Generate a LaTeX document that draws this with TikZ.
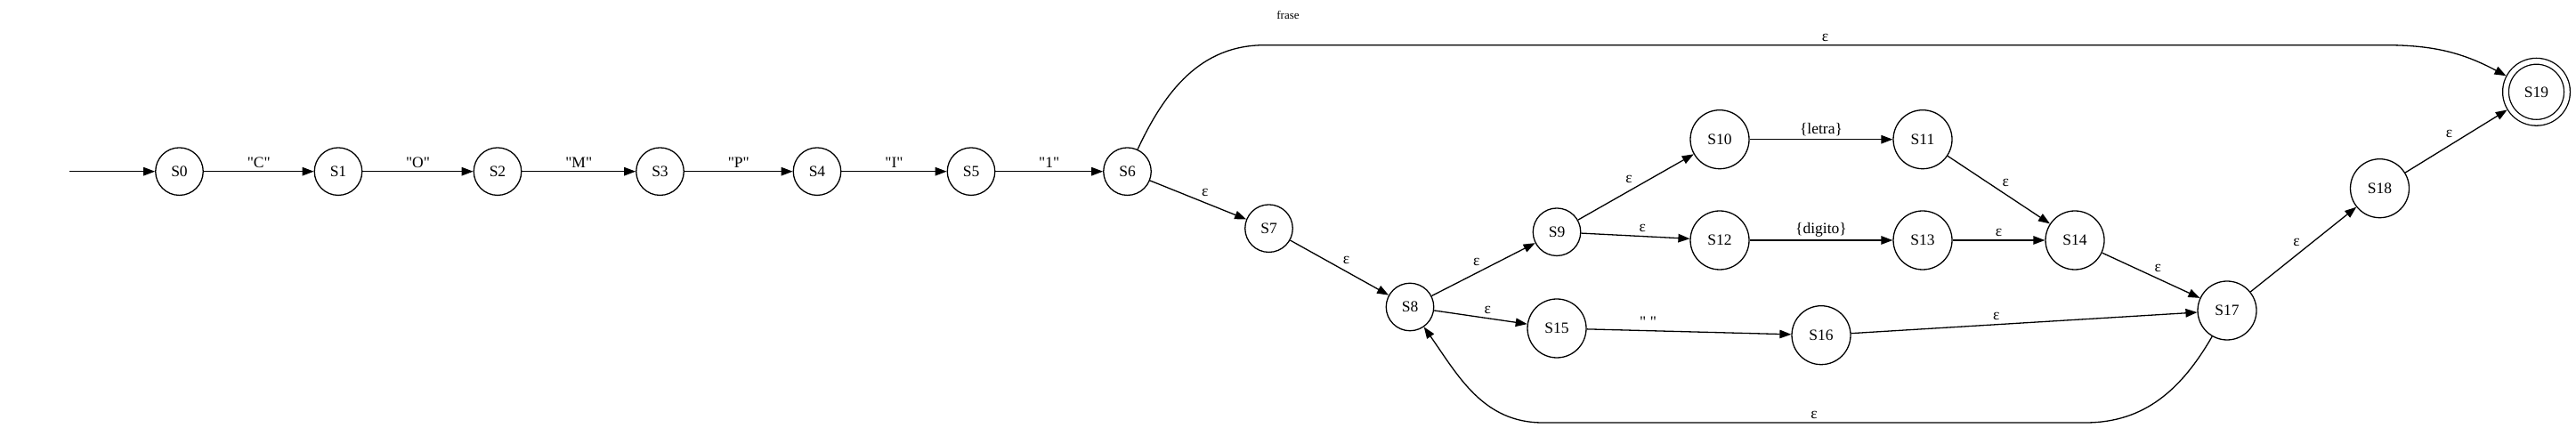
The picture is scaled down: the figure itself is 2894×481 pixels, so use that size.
\documentclass[tikz,border=0pt]{standalone}
\usepackage{fontspec}
\setmainfont{Liberation Serif}
\usetikzlibrary{arrows.meta}
\newcommand{\dq}{\textquotedbl}

\begin{document}
\begin{tikzpicture}[x=1pt,y=1pt]
\tikzset{every node/.style={font=\fontsize{17.5}{21}\selectfont}}
\tikzset{state/.style={circle,draw,line width=1.3pt,minimum size=53.5pt,inner sep=0pt}}
\tikzset{bigstate/.style={state,minimum size=66pt}}
\tikzset{acceptstate/.style={state,double,double distance=5.5pt,minimum size=69pt,outer sep=4pt}}
\tikzset{trans/.style={-{Triangle[length=13pt,width=9.5pt]},line width=1.3pt}}
\tikzset{lbl/.style={auto,inner sep=3.5pt}}
\useasboundingbox (0,0) rectangle (2894,481);
\node[font=\fontsize{13}{15}\selectfont] (title) at (1447,464.3) {frase};
\node[state] (S0) at (201.5,288.3) {S0};
\node[state] (S1) at (380,288.3) {S1};
\node[state] (S2) at (559,288.3) {S2};
\node[state] (S3) at (741.5,288.3) {S3};
\node[state] (S4) at (918,288.3) {S4};
\node[state] (S5) at (1091,288.3) {S5};
\node[state] (S6) at (1266.5,288.3) {S6};
\node[state] (S7) at (1425.5,224.3) {S7};
\node[state] (S8) at (1584,136) {S8};
\node[state] (S9) at (1749,220.3) {S9};
\node[bigstate] (S10) at (1932,324.3) {S10};
\node[bigstate] (S11) at (2160,324.3) {S11};
\node[bigstate] (S12) at (1932,211) {S12};
\node[bigstate] (S13) at (2160,211) {S13};
\node[bigstate] (S14) at (2331,211) {S14};
\node[bigstate] (S15) at (1749,112) {S15};
\node[bigstate] (S16) at (2046,104.3) {S16};
\node[bigstate] (S17) at (2502,132) {S17};
\node[bigstate] (S18) at (2673.5,269.3) {S18};
\node[acceptstate] (S19) at (2849.5,377.7) {S19};
\coordinate (start) at (78,288.3);
\coordinate (topL) at (1421,430.3);
\coordinate (topR) at (2680,430.3);
\coordinate (botR) at (2343,6);
\coordinate (botL) at (1733,6);
\draw[trans] (start) -- (S0);
\draw[trans] (S0) -- node[lbl] {\dq C\dq} (S1);
\draw[trans] (S1) -- node[lbl] {\dq O\dq} (S2);
\draw[trans] (S2) -- node[lbl] {\dq M\dq} (S3);
\draw[trans] (S3) -- node[lbl] {\dq P\dq} (S4);
\draw[trans] (S4) -- node[lbl] {\dq I\dq} (S5);
\draw[trans] (S5) -- node[lbl] {\dq 1\dq} (S6);
\draw[trans] (S6) -- node[lbl] {ε} (S7);
\draw[trans] (S7) -- node[lbl] {ε} (S8);
\draw[trans] (S8) -- node[lbl] {ε} (S9);
\draw[trans] (S8) -- node[lbl] {ε} (S15);
\draw[trans] (S9) -- node[lbl] {ε} (S10);
\draw[trans] (S9) -- node[lbl] {ε} (S12);
\draw[trans] (S10) -- node[lbl] {\{letra\}} (S11);
\draw[trans] (S12) -- node[lbl] {\{digito\}} (S13);
\draw[trans] (S11) -- node[lbl] {ε} (S14);
\draw[trans] (S13) -- node[lbl] {ε} (S14);
\draw[trans] (S15) -- node[lbl,pos=0.3] {\dq\ \dq} (S16);
\draw[trans] (S16) -- node[lbl,pos=0.44] {ε} (S17);
\draw[trans] (S14) -- node[lbl] {ε} (S17);
\draw[trans] (S17) -- node[lbl] {ε} (S18);
\draw[trans] (S18) -- node[lbl] {ε} (S19);
\draw[trans] (S6) to[out=65,in=180] (topL) -- node[lbl] {ε} (topR) to[out=0,in=152] (S19);
\draw[trans] (S17) to[out=-120,in=0] (botR) -- node[lbl,swap] {ε} (botL) to[out=180,in=-55] (S8);
\end{tikzpicture}
\end{document}
